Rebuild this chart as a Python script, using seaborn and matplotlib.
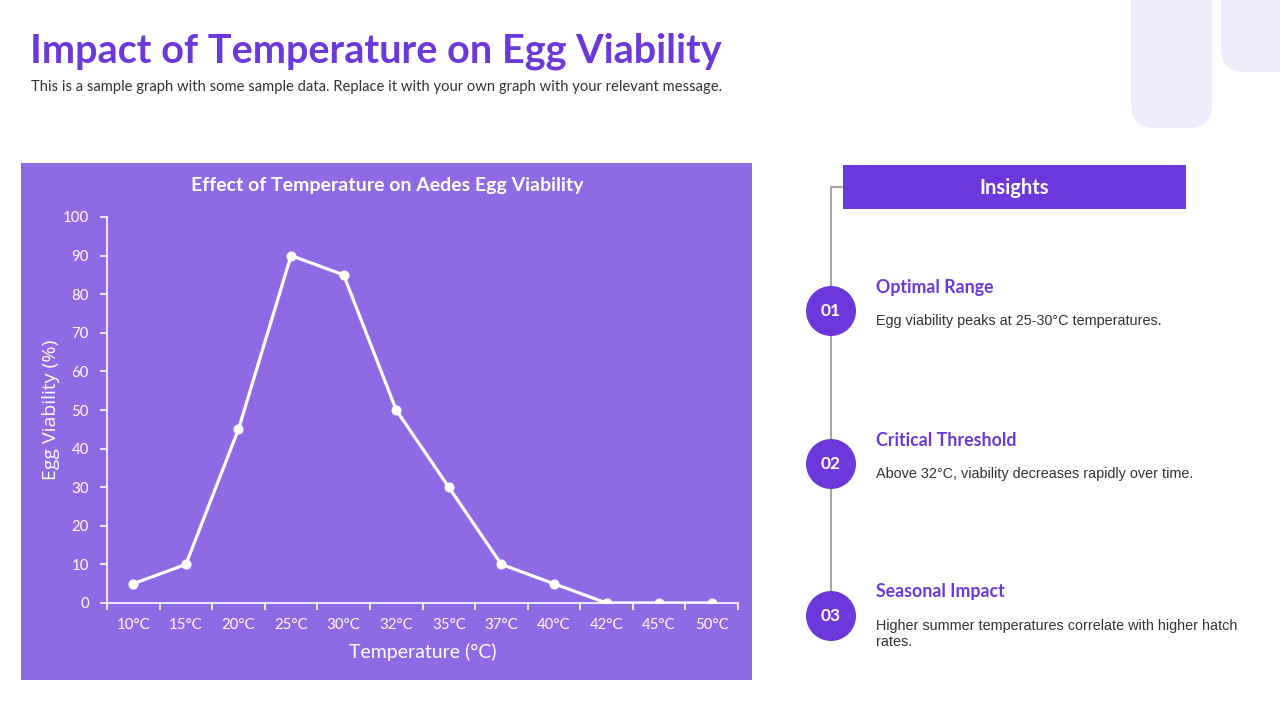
import matplotlib
matplotlib.use("Agg")
import matplotlib.pyplot as plt
from matplotlib.patches import Rectangle, Circle, FancyBboxPatch
import pandas as pd
import seaborn as sns

# data
temps = ["10°C", "15°C", "20°C", "25°C", "30°C", "32°C", "35°C", "37°C", "40°C", "42°C", "45°C", "50°C"]
viability = [5, 10, 45, 90, 85, 50, 30, 10, 5, 0, 0, 0]
y_ticks = [0, 10, 20, 30, 40, 50, 60, 70, 80, 90, 100]

insight_nums = ["01", "02", "03"]
insight_titles = ["Optimal Range", "Critical Threshold", "Seasonal Impact"]
insight_texts = [
    "Egg viability peaks at 25-30°C temperatures.",
    "Above 32°C, viability decreases rapidly over time.",
    "Higher summer temperatures correlate with higher hatch\nrates.",
]

PURPLE = "#6C38DC"
PANEL = "#8F6AE4"
DECOR = "#EFEBFB"

sns.set_theme(style="white")
plt.rcParams["font.family"] = ["Lato", "DejaVu Sans"]

fig = plt.figure(figsize=(12.8, 7.2), dpi=100)

# overlay in pixel coords for the slide decorations
bg = fig.add_axes([0, 0, 1, 1])
bg.set_xlim(0, 1280)
bg.set_ylim(720, 0)
bg.axis("off")

# top-right decorative shapes
bg.add_patch(FancyBboxPatch((1131, -40), 81, 168, boxstyle="round,pad=0,rounding_size=24",
                            fc=DECOR, ec="none"))
bg.add_patch(FancyBboxPatch((1221, -40), 90, 112, boxstyle="round,pad=0,rounding_size=24",
                            fc=DECOR, ec="none"))

bg.text(30, 51, "Impact of Temperature on Egg Viability", fontsize=28.5, fontweight="bold",
        color=PURPLE, va="center", ha="left")
bg.text(31, 87, "This is a sample graph with some sample data. Replace it with your own graph with your relevant message.",
        fontsize=10.6, color="#333333", va="center", ha="left")

# chart panel
bg.add_patch(Rectangle((21, 163), 731, 517, fc=PANEL, ec="none"))
bg.text(387, 186, "Effect of Temperature on Aedes Egg Viability", fontsize=14, fontweight="bold",
        color="white", ha="center", va="center")

# insights column
bg.plot([831, 831], [187, 616], color="#A6A6A6", lw=1.5, zorder=1)
bg.plot([831, 843], [187, 187], color="#A6A6A6", lw=1.5, zorder=1)
bg.add_patch(Rectangle((843, 165), 343, 44, fc=PURPLE, ec="none", zorder=2))
bg.text(1014, 188, "Insights", fontsize=14.5, fontweight="bold", color="white",
        ha="center", va="center", zorder=3)

row_y = [311, 464, 616]
for num, title, text, cy in zip(insight_nums, insight_titles, insight_texts, row_y):
    bg.add_patch(Circle((831, cy), 25, fc=PURPLE, ec="none", zorder=2))
    bg.text(831, cy, num, fontsize=12.5, fontweight="bold", color="white",
            ha="center", va="center", zorder=3)
    bg.text(876, cy - 24, title, fontsize=12.8, fontweight="bold", color=PURPLE,
            ha="left", va="center")
    bg.text(876, cy + 3, text, fontsize=10.4, color="#333333", ha="left", va="top",
            family=["Liberation Sans", "DejaVu Sans"], linespacing=1.15)

# the line chart
ax = fig.add_axes([107 / 1280, 1 - 603 / 720, 631 / 1280, 386 / 720])
ax.set_facecolor("none")
df = pd.DataFrame({"Temperature": temps, "Viability": viability})
sns.lineplot(data=df, x="Temperature", y="Viability", sort=False, ax=ax, color="white",
             lw=2.3, marker="o", markersize=6.5, markeredgecolor="white")

ax.set_xlim(-0.5, len(temps) - 0.5)
ax.set_ylim(0, 100)
ax.set_yticks(y_ticks)
ax.set_xticks(range(len(temps)))
ax.set_xticklabels(temps)
ax.set_xticks([i - 0.5 for i in range(len(temps) + 1)], minor=True)

for s in ["top", "right"]:
    ax.spines[s].set_visible(False)
for s in ["left", "bottom"]:
    ax.spines[s].set_color("white")
    ax.spines[s].set_linewidth(1.2)

ax.tick_params(axis="y", which="major", left=True, length=5, width=1.2, color="white",
               labelcolor="white", labelsize=10.8, pad=8)
ax.tick_params(axis="x", which="major", bottom=False, length=0, labelcolor="white",
               labelsize=10.8, pad=11)
ax.tick_params(axis="x", which="minor", bottom=True, length=5, width=1.2, color="white")

ax.set_xlabel("Temperature (°C)", fontsize=14, color="white", labelpad=8)
ax.set_ylabel("Egg Viability (%)", fontsize=14, color="white", labelpad=2,
              family=["Open Sans", "DejaVu Sans"])

fig.savefig("out.png", dpi=100, facecolor="white")
